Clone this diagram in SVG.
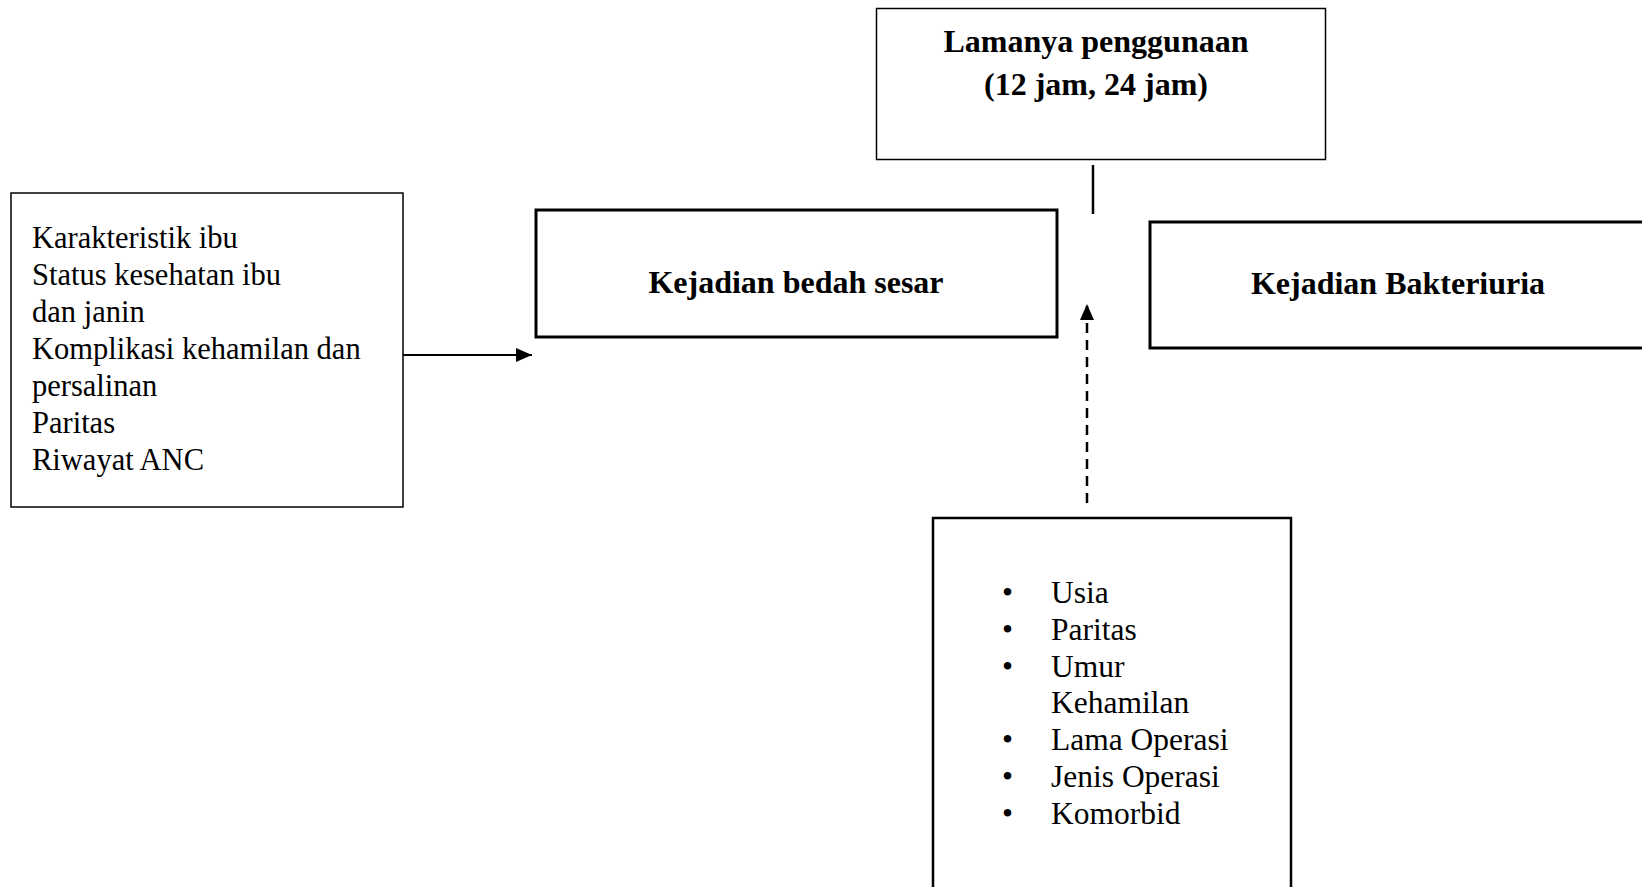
<svg xmlns="http://www.w3.org/2000/svg" width="1642" height="887" viewBox="0 0 1642 887">
<defs>
<style>
.box{fill:#fff;stroke:#000}
.thin{stroke-width:1.5}
.thick{stroke-width:3}
.b{font-family:"Liberation Serif","Times New Roman",serif;font-weight:bold;font-size:32px;fill:#000;text-anchor:middle}
.r{font-family:"Liberation Serif","Times New Roman",serif;font-size:30.5px;fill:#000}
.r2{font-family:"Liberation Serif","Times New Roman",serif;font-size:31.5px;fill:#000}
.conn{stroke:#000;fill:none}
</style>
<marker id="ah" markerWidth="16" markerHeight="14" refX="16" refY="7" orient="auto" markerUnits="userSpaceOnUse">
<path d="M0,0 L16,7 L0,14 Z" fill="#000"/>
</marker>
</defs>
<rect width="1642" height="887" fill="#fff"/>
<g id="connectors">
<line class="conn" x1="1093" y1="165" x2="1093" y2="214" stroke-width="2.5"/>
<line class="conn" x1="403" y1="355" x2="532" y2="355" stroke-width="2" marker-end="url(#ah)"/>
<line class="conn" x1="1087" y1="503" x2="1087" y2="304" stroke-width="2.5" stroke-dasharray="10,7" marker-end="url(#ah)"/>
</g>
<g id="node-lamanya">
<rect class="box thin" x="876.5" y="8.5" width="449" height="151"/>
<text class="b" x="1096" y="52">Lamanya penggunaan</text>
<text class="b" x="1096" y="95">(12 jam, 24 jam)</text>
</g>
<g id="node-karakteristik">
<rect class="box thin" x="11" y="193" width="392" height="314"/>
<text class="r" x="32">
<tspan x="32" y="248">Karakteristik ibu</tspan>
<tspan x="32" y="285">Status kesehatan ibu</tspan>
<tspan x="32" y="322">dan janin</tspan>
<tspan x="32" y="359">Komplikasi kehamilan dan</tspan>
<tspan x="32" y="396">persalinan</tspan>
<tspan x="32" y="433">Paritas</tspan>
<tspan x="32" y="470">Riwayat ANC</tspan>
</text>
</g>
<g id="node-bedah">
<rect class="box thick" x="536" y="210" width="521" height="127"/>
<text class="b" x="796" y="293">Kejadian bedah sesar</text>
</g>
<g id="node-bakteriuria">
<rect class="box thick" x="1150" y="222" width="500" height="126"/>
<text class="b" x="1398" y="294">Kejadian Bakteriuria</text>
</g>
<g id="node-faktor">
<rect class="box" stroke-width="2.5" x="933" y="518" width="358" height="400"/>
<g class="r2">
<text x="1002" y="603">•</text><text x="1051" y="603">Usia</text>
<text x="1002" y="640">•</text><text x="1051" y="640">Paritas</text>
<text x="1002" y="677">•</text><text x="1051" y="677">Umur</text>
<text x="1051" y="713">Kehamilan</text>
<text x="1002" y="750">•</text><text x="1051" y="750">Lama Operasi</text>
<text x="1002" y="787">•</text><text x="1051" y="787">Jenis Operasi</text>
<text x="1002" y="824">•</text><text x="1051" y="824">Komorbid</text>
</g>
</g>
</svg>
